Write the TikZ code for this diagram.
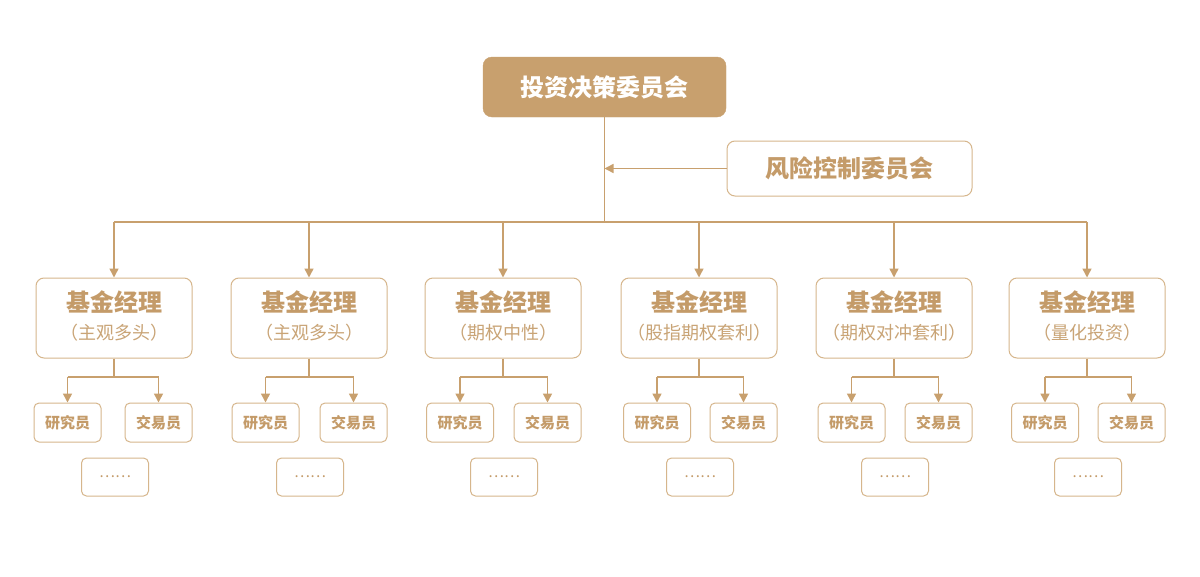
\documentclass[tikz,border=0pt]{standalone}
\usepackage{fontspec}
\setmainfont{Noto Sans CJK SC}
\usetikzlibrary{arrows.meta}
\definecolor{gold}{HTML}{C8A06E}
\definecolor{goldtext}{HTML}{C49B69}
\definecolor{goldsub}{HTML}{C9A476}
\definecolor{goldline}{HTML}{D6B68C}
\tikzset{
  topbox/.style={draw=gold,fill=gold,rounded corners=9pt,minimum width=243pt,minimum height=60pt,inner sep=0pt,text=white,font=\fontsize{24}{27}\selectfont\bfseries},
  riskbox/.style={draw=goldline,line width=1pt,fill=white,rounded corners=8pt,minimum width=245pt,minimum height=55pt,inner sep=0pt,text=goldtext,font=\fontsize{24}{27}\selectfont\bfseries},
  mgrbox/.style={draw=goldline,line width=1pt,rounded corners=8pt,minimum width=156pt,minimum height=80pt,inner sep=0pt},
  mgrtitle/.style={inner sep=0pt,text=goldtext,font=\fontsize{24}{27}\selectfont\bfseries},
  mgrsub/.style={inner sep=0pt,text=goldsub,font=\fontsize{18}{21}\selectfont},
  smallbox/.style={draw=goldline,line width=1pt,rounded corners=5pt,minimum width=67pt,minimum height=39pt,inner sep=0pt,text=goldtext,font=\fontsize{15}{18}\selectfont\bfseries},
  dotbox/.style={draw=goldline,line width=1pt,rounded corners=5pt,minimum width=67pt,minimum height=38pt,inner sep=0pt,text=goldtext,font=\fontsize{15}{18}\selectfont},
  conn/.style={draw=gold,line width=1.5pt},
  arr/.style={conn,-{Triangle[width=9pt,length=9pt]}},
}
\begin{document}
\begin{tikzpicture}[x=1pt,y=-1pt]
\useasboundingbox[fill=white] (0,0) rectangle (1200,576);
\node[topbox] (ic) at (604.5,87) {投资决策委员会};
\node[riskbox] (risk) at (849.5,168.5) {风险控制委员会};
\coordinate (bus) at (604.5,222);
\draw[conn] (ic.south) -- (bus);
\draw[arr] (risk.west) -- (ic.south |- risk.west);
\foreach \i/\c/\ro/\sub in {1/114/46.5/（主观多头）,2/309/43.5/（主观多头）,3/503/43/（期权中性）,4/699/42/（股指期权套利）,5/894/42.5/（期权对冲套利）,6/1087/42/（量化投资）}{
  \node[mgrbox] (m\i) at (\c,318) {};
  \node[mgrtitle] (m\i t) at (\c,302) {基金经理};
  \node[mgrsub] (m\i s) at (\c,333) {\sub};
  \node[smallbox] (r\i) at (\c-\ro,422.5) {研究员};
  \node[smallbox] (t\i) at (\c+44.5,422.5) {交易员};
  \node[dotbox] (d\i) at (\c+1,477) {……};
  \coordinate (j\i) at (\c,377);
  \draw[conn] (m\i.south) -- (j\i);
  \draw[conn] (r\i.north |- j\i) -- (t\i.north |- j\i);
  \draw[arr] (r\i.north |- j\i) -- (r\i.north);
  \draw[arr] (t\i.north |- j\i) -- (t\i.north);
}
\draw[conn] (m1.north |- bus) -- (m6.north |- bus);
\foreach \i in {1,...,6}{
  \draw[arr] (m\i.north |- bus) -- (m\i.north);
}
\end{tikzpicture}
\end{document}
